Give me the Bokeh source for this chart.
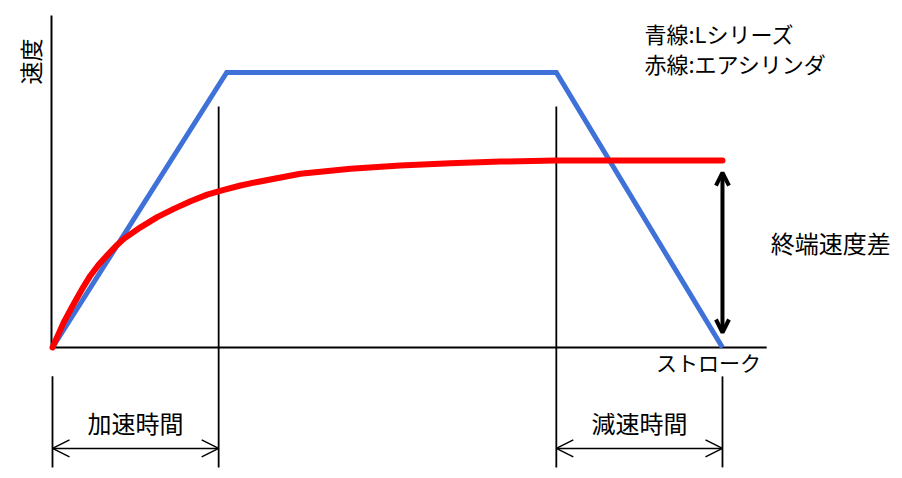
from math import pi
from bokeh.plotting import figure
from bokeh.models import Range1d, Arrow, OpenHead
from bokeh.core.properties import value
from bokeh.embed import file_html
from bokeh.resources import INLINE

# ---- data (stroke 0..100, speed 0..100) ----
blue_x = [0, 26, 75.2, 100]
blue_y = [0, 100, 100, 0]

red_x = [0, 0.45, 1.69, 3.18, 4.43, 5.67, 6.91, 8.16, 9.40, 10.64, 13.13, 15.63, 18.10,
         20.60, 23.09, 25.57, 28.06, 29.55, 37.0, 44.5, 51.9, 59.4, 66.9, 75.1, 100]
red_y = [0, 2.5, 9.2, 15.9, 21.3, 26.2, 30.2, 33.5, 36.7, 39.5, 43.7, 47.4, 50.4,
         53.2, 55.6, 57.3, 58.9, 59.7, 63.2, 65.0, 66.2, 67.0, 67.6, 68.0, 68.0]

accel_end = 24.8
decel_start = 75.2
stroke_end = 100

legend_lines = ["青線:Lシリーズ", "赤線:エアシリンダ"]
FONT = value("Noto Sans CJK JP")

p = figure(width=902, height=478, output_backend="svg", toolbar_location=None,
           x_range=Range1d(-7.761, 126.87), y_range=Range1d(-47.64, 126.18),
           x_axis_location=None, y_axis_location=None, min_border=0,
           background_fill_color="white", border_fill_color="white")
p.grid.visible = False
p.outline_line_color = None

# axes
p.line([-0.15, -0.15], [0, 120.7], line_color="black", line_width=2)
p.line([-0.15, 106.6], [0, 0], line_color="black", line_width=2)

# guide lines
p.line([accel_end, accel_end], [87.6, -43.6], line_color="black", line_width=1.8)
p.line([decel_start, decel_start], [87.6, -43.6], line_color="black", line_width=1.8)
p.line([0, 0], [-10.5, -43.6], line_color="black", line_width=1.8)
p.line([stroke_end, stroke_end], [-10.5, -43.6], line_color="black", line_width=1.8)

# series
p.line(blue_x, blue_y, line_color="#3F72D8", line_width=5, line_join="miter")
p.line(red_x, red_y, line_color="#FF0000", line_width=6, line_cap="round", line_join="round")

# double arrows (time spans)
yarr = -36.7
for a, b in [(0, accel_end), (decel_start, stroke_end)]:
    p.add_layout(Arrow(x_start=a, y_start=yarr, x_end=b, y_end=yarr,
                       line_color="black", line_width=1.5,
                       start=OpenHead(size=17, line_width=1.5, line_color="black"),
                       end=OpenHead(size=17, line_width=1.5, line_color="black")))

# terminal speed difference arrow
p.add_layout(Arrow(x_start=stroke_end, y_start=red_y[-1] - 4.4, x_end=stroke_end, y_end=5.45,
                   line_color="black", line_width=4,
                   start=OpenHead(size=13, line_width=4, line_color="black"),
                   end=OpenHead(size=13, line_width=4, line_color="black")))

# texts
p.text(x=[88.36, 88.36], y=[114.2, 103.6], text=legend_lines, text_font=FONT,
       text_font_size="22px", text_align="left", text_baseline="middle", text_color="black")
p.text(x=[107.2], y=[38.2], text=["終端速度差"], text_font=FONT,
       text_font_size="24px", text_align="left", text_baseline="middle", text_color="black")
p.text(x=[97.9], y=[-5.1], text=["ストローク"], text_font=FONT,
       text_font_size="21px", text_align="center", text_baseline="middle", text_color="black")
p.text(x=[accel_end / 2, (decel_start + stroke_end) / 2], y=[-27.3, -27.3],
       text=["加速時間", "減速時間"], text_font=FONT,
       text_font_size="24px", text_align="center", text_baseline="middle", text_color="black")
p.text(x=[-3.43], y=[104], text=["速度"], angle=pi / 2, text_font=FONT,
       text_font_size="23px", text_align="center", text_baseline="middle", text_color="black")

open("out.html", "w").write(file_html(p, INLINE))
